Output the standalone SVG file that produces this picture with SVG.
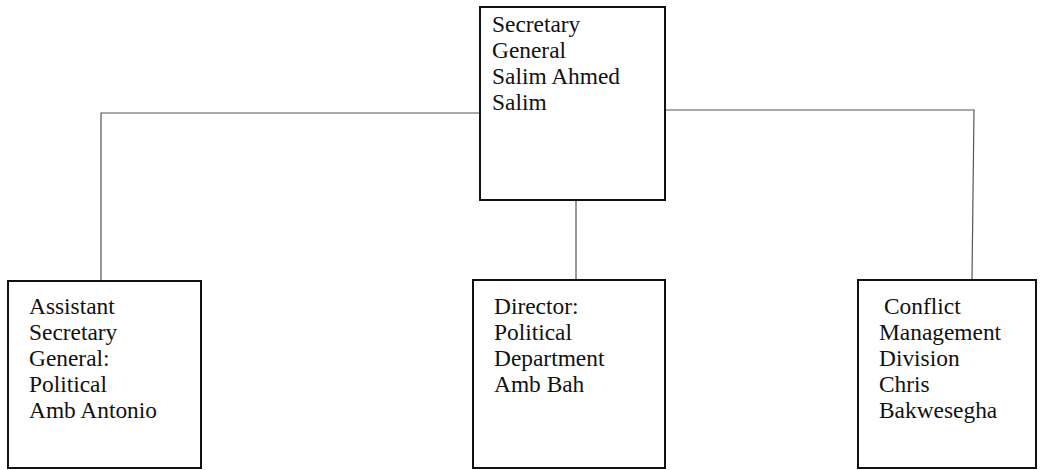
<svg xmlns="http://www.w3.org/2000/svg" width="1042" height="470" viewBox="0 0 1042 470">
<style>
.box{fill:#fff;stroke:#111;stroke-width:2}
.t{font-family:"Liberation Serif","Times New Roman",serif;font-size:23.4px;fill:#111}
.c{fill:none;stroke:#555;stroke-width:1.2}
</style>
<rect width="1042" height="470" fill="#fff"/>
<g id="connectors">
<polyline class="c" points="480,113 101,113 101,281"/>
<polyline class="c" points="665,110 974,110 972,280"/>
<line class="c" x1="576" y1="200" x2="576" y2="280"/>
</g>
<g id="secretary-general">
<rect class="box" x="480" y="7" width="185" height="193"/>
<text class="t"><tspan x="492" y="32">Secretary</tspan><tspan x="492" y="58">General</tspan><tspan x="492" y="84">Salim Ahmed</tspan><tspan x="492" y="110">Salim</tspan></text>
</g>
<g id="assistant-secretary-general">
<rect class="box" x="8" y="281" width="193" height="187"/>
<text class="t"><tspan x="29" y="314">Assistant</tspan><tspan x="29" y="340">Secretary</tspan><tspan x="29" y="366">General:</tspan><tspan x="29" y="392">Political</tspan><tspan x="29" y="418">Amb Antonio</tspan></text>
</g>
<g id="director-political">
<rect class="box" x="473" y="280" width="192" height="188"/>
<text class="t"><tspan x="494" y="314">Director:</tspan><tspan x="494" y="340">Political</tspan><tspan x="494" y="366">Department</tspan><tspan x="494" y="392">Amb Bah</tspan></text>
</g>
<g id="conflict-management">
<rect class="box" x="858" y="280" width="178" height="188"/>
<text class="t"><tspan x="884" y="314">Conflict</tspan><tspan x="879" y="340">Management</tspan><tspan x="879" y="366">Division</tspan><tspan x="879" y="392">Chris</tspan><tspan x="879" y="418">Bakwesegha</tspan></text>
</g>
</svg>
